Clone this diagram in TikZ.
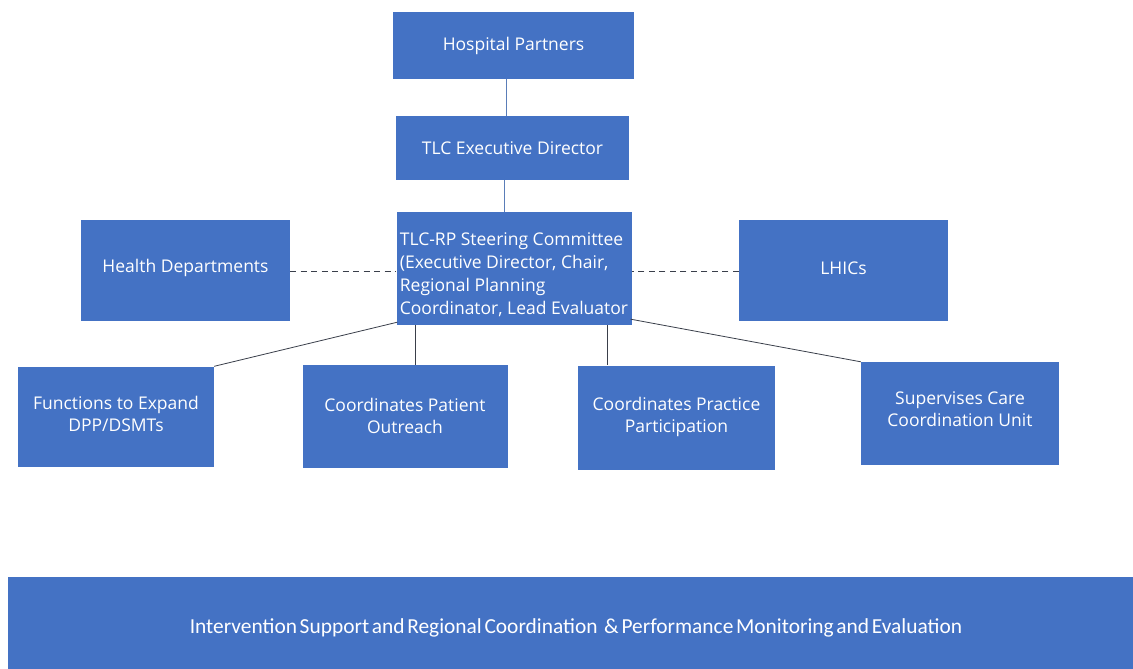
\documentclass[tikz,border=0pt]{standalone}
\usepackage{fontspec}
\setmainfont{Open Sans}
\newfontfamily\barfont{Carlito}
\definecolor{boxblue}{HTML}{4472C4}
\definecolor{linkgray}{HTML}{3A3F4A}
\definecolor{linkblue}{HTML}{5A7DB8}
% box text moved up (or down) by #1 while the node keeps its natural size
\newcommand{\nudge}[2]{\raisebox{#1}[\height][\depth]{#2}}
\newcommand{\boxlinesc}[2]{\nudge{#1}{\begin{tabular}{@{}c@{}}#2\end{tabular}}}
\newcommand{\boxlinesl}[2]{\nudge{#1}{\begin{tabular}{@{}l@{}}#2\end{tabular}}}
\begin{document}
\begin{tikzpicture}[x=1pt,y=-1pt,
  orgbox/.style={fill=boxblue, draw=none, text=white, inner sep=0pt,
    font=\fontsize{17.5}{22}\selectfont, align=center},
  tie/.style={draw=linkgray, line width=0.8pt},
  toptie/.style={draw=linkblue, line width=0.9pt},
  dottie/.style={draw=linkgray, line width=0.6pt, dash pattern=on 6pt off 4.5pt}]
\useasboundingbox[fill=white] (0,0) rectangle (1133,669);

% upper chain
\node[orgbox, minimum width=241pt, minimum height=67pt] (hosp) at (513.5,45.5) {Hospital Partners};
\node[orgbox, minimum width=233pt, minimum height=64pt] (ted) at (512.5,148) {TLC Executive Director};
\node[orgbox, minimum width=235pt, minimum height=113pt,
      font=\fontsize{17.5}{23}\selectfont] (steer) at (514,268.5)
  {\boxlinesl{-7pt}{TLC-RP Steering Committee\\(Executive Director, Chair,\\Regional Planning\\Coordinator, Lead Evaluator}};

% side partners
\node[orgbox, minimum width=209pt, minimum height=101pt] (health) at (185.5,270.5) {\nudge{3pt}{Health Departments}};
\node[orgbox, minimum width=209pt, minimum height=101pt] (lhic) at (843.5,270.5) {\nudge{2pt}{LHICs}};

% functions
\node[orgbox, minimum width=196pt, minimum height=100pt] (expand) at (116,416.5) {\boxlinesc{0pt}{Functions to Expand\\DPP/DSMTs}};
\node[orgbox, minimum width=205pt, minimum height=103pt] (outreach) at (405,416.5) {\boxlinesc{-2pt}{Coordinates Patient\\Outreach}};
\node[orgbox, minimum width=197pt, minimum height=104pt] (practice) at (676.5,417.5) {\boxlinesc{0pt}{Coordinates Practice\\Participation}};
\node[orgbox, minimum width=198pt, minimum height=103pt] (care) at (960,413.5) {\boxlinesc{2pt}{Supervises Care\\Coordination Unit}};

% bottom band
\node[fill=boxblue, text=white, inner sep=0pt, minimum width=1125pt, minimum height=92pt,
      font=\barfont\fontsize{21.4}{23}\selectfont] (band) at (570.5,623)
  {\nudge{-5pt}{\hspace*{11pt}\spaceskip=2.7pt Intervention Support and Regional Coordination\hspace{4pt} \& Performance Monitoring and Evaluation}};

% connectors
\draw[toptie] (hosp.south -| 506,0) -- (ted.north -| 506,0);
\draw[toptie] (ted.south -| 504,0) -- (steer.north -| 504,0);
\draw[dottie] (health.east |- 0,271) -- (steer.west |- 0,271);
\draw[dottie] (lhic.west |- 0,271) -- (steer.east |- 0,271);
\draw[tie] (steer.south west) ++(1,-3) -- (expand.north east);
\draw[tie] (steer.south -| 415,0) -- (outreach.north -| 415,0);
\draw[tie] (steer.south -| 607,0) -- (practice.north -| 607,0);
\draw[tie] (steer.south east) ++(-1,-6) -- (care.north west);
\end{tikzpicture}
\end{document}
